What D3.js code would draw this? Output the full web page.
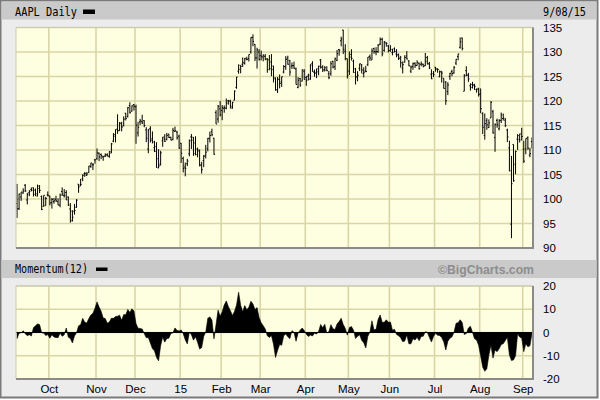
<!DOCTYPE html>
<html><head><meta charset="utf-8">
<script src="https://cdn.jsdelivr.net/npm/d3@7"></script>
<style>body{margin:0;background:#fff}svg{display:block}</style>
</head><body><svg id="c" width="600" height="400"></svg>
<script>
// ---------- DATA ----------
const dates = [
"2014-09-09","2014-09-10","2014-09-11","2014-09-12","2014-09-15","2014-09-16","2014-09-17","2014-09-18","2014-09-19","2014-09-22","2014-09-23","2014-09-24","2014-09-25","2014-09-26","2014-09-29","2014-09-30",
"2014-10-01","2014-10-02","2014-10-03","2014-10-06","2014-10-07","2014-10-08","2014-10-09","2014-10-10","2014-10-13","2014-10-14","2014-10-15","2014-10-16","2014-10-17","2014-10-20","2014-10-21","2014-10-22","2014-10-23","2014-10-24","2014-10-27","2014-10-28","2014-10-29","2014-10-30","2014-10-31",
"2014-11-03","2014-11-04","2014-11-05","2014-11-06","2014-11-07","2014-11-10","2014-11-11","2014-11-12","2014-11-13","2014-11-14","2014-11-17","2014-11-18","2014-11-19","2014-11-20","2014-11-21","2014-11-24","2014-11-25","2014-11-26","2014-11-28",
"2014-12-01","2014-12-02","2014-12-03","2014-12-04","2014-12-05","2014-12-08","2014-12-09","2014-12-10","2014-12-11","2014-12-12","2014-12-15","2014-12-16","2014-12-17","2014-12-18","2014-12-19","2014-12-22","2014-12-23","2014-12-24","2014-12-26","2014-12-29","2014-12-30","2014-12-31",
"2015-01-02","2015-01-05","2015-01-06","2015-01-07","2015-01-08","2015-01-09","2015-01-12","2015-01-13","2015-01-14","2015-01-15","2015-01-16","2015-01-20","2015-01-21","2015-01-22","2015-01-23","2015-01-26","2015-01-27","2015-01-28","2015-01-29","2015-01-30",
"2015-02-02","2015-02-03","2015-02-04","2015-02-05","2015-02-06","2015-02-09","2015-02-10","2015-02-11","2015-02-12","2015-02-13","2015-02-17","2015-02-18","2015-02-19","2015-02-20","2015-02-23","2015-02-24","2015-02-25","2015-02-26","2015-02-27",
"2015-03-02","2015-03-03","2015-03-04","2015-03-05","2015-03-06","2015-03-09","2015-03-10","2015-03-11","2015-03-12","2015-03-13","2015-03-16","2015-03-17","2015-03-18","2015-03-19","2015-03-20","2015-03-23","2015-03-24","2015-03-25","2015-03-26","2015-03-27","2015-03-30","2015-03-31",
"2015-04-01","2015-04-02","2015-04-06","2015-04-07","2015-04-08","2015-04-09","2015-04-10","2015-04-13","2015-04-14","2015-04-15","2015-04-16","2015-04-17","2015-04-20","2015-04-21","2015-04-22","2015-04-23","2015-04-24","2015-04-27","2015-04-28","2015-04-29","2015-04-30",
"2015-05-01","2015-05-04","2015-05-05","2015-05-06","2015-05-07","2015-05-08","2015-05-11","2015-05-12","2015-05-13","2015-05-14","2015-05-15","2015-05-18","2015-05-19","2015-05-20","2015-05-21","2015-05-22","2015-05-26","2015-05-27","2015-05-28","2015-05-29",
"2015-06-01","2015-06-02","2015-06-03","2015-06-04","2015-06-05","2015-06-08","2015-06-09","2015-06-10","2015-06-11","2015-06-12","2015-06-15","2015-06-16","2015-06-17","2015-06-18","2015-06-19","2015-06-22","2015-06-23","2015-06-24","2015-06-25","2015-06-26","2015-06-29","2015-06-30",
"2015-07-01","2015-07-02","2015-07-06","2015-07-07","2015-07-08","2015-07-09","2015-07-10","2015-07-13","2015-07-14","2015-07-15","2015-07-16","2015-07-17","2015-07-20","2015-07-21","2015-07-22","2015-07-23","2015-07-24","2015-07-27","2015-07-28","2015-07-29","2015-07-30","2015-07-31",
"2015-08-03","2015-08-04","2015-08-05","2015-08-06","2015-08-07","2015-08-10","2015-08-11","2015-08-12","2015-08-13","2015-08-14","2015-08-17","2015-08-18","2015-08-19","2015-08-20","2015-08-21","2015-08-24","2015-08-25","2015-08-26","2015-08-27","2015-08-28","2015-08-31",
"2015-09-01","2015-09-02","2015-09-03","2015-09-04","2015-09-08"];

const opens = [
99.08,98.01,100.41,101.21,102.81,99.80,101.27,101.93,102.29,101.80,100.60,102.16,100.51,98.53,98.65,100.81,
100.59,99.27,99.44,99.95,99.43,98.76,101.54,100.69,101.33,100.39,97.97,95.55,97.50,98.32,103.02,102.84,104.08,105.18,104.85,105.40,106.65,106.96,108.01,
108.22,109.36,109.10,108.60,108.75,109.02,108.70,109.38,111.80,113.15,114.27,113.94,115.44,114.91,117.51,116.85,119.07,117.94,119.27,
118.81,113.50,115.75,115.77,115.99,114.10,110.19,114.41,112.26,110.46,110.70,106.37,107.12,111.87,112.26,112.16,113.23,112.58,112.10,113.79,113.64,112.82,
111.39,108.29,106.54,107.20,109.23,112.67,112.60,111.43,109.04,110.00,107.03,107.84,108.95,110.26,112.30,113.74,112.42,117.63,116.32,118.40,
118.05,118.50,118.50,120.02,120.02,118.55,120.17,122.77,126.06,127.28,127.49,127.63,128.48,128.62,130.02,132.94,131.56,128.79,130.00,
129.25,128.96,129.10,128.58,128.40,127.96,126.41,124.75,122.31,124.40,123.88,125.90,127.00,128.75,128.25,127.12,127.23,126.54,122.76,124.57,124.05,126.09,
124.82,125.03,124.47,127.64,125.85,125.85,125.95,128.37,127.00,126.41,126.28,125.55,125.57,128.10,126.99,128.30,130.49,132.31,134.46,130.16,128.64,
126.10,129.50,128.15,126.56,124.77,126.68,127.39,125.60,126.15,127.41,129.07,128.38,130.69,130.00,130.07,131.60,132.60,130.34,131.86,131.23,
130.28,129.86,130.66,129.58,129.50,128.90,126.70,127.92,129.18,128.19,126.10,127.03,127.72,127.23,127.71,127.49,127.48,127.21,128.86,127.67,125.46,125.57,
126.90,126.43,124.94,125.89,124.64,123.85,121.94,125.03,126.04,125.72,127.74,129.08,130.97,132.85,121.99,126.20,125.32,123.09,123.38,123.15,122.32,122.60,
121.50,117.42,112.95,115.97,114.58,116.53,117.81,112.53,116.04,114.32,116.04,116.43,116.10,114.08,110.43,94.87,111.11,107.09,112.23,112.17,112.03,
110.15,110.23,112.49,108.97,111.75];

const highs = [
103.08,101.11,101.44,102.19,103.05,101.26,101.80,102.35,102.35,102.14,102.94,102.85,100.71,100.75,100.44,101.54,
100.69,100.22,100.21,100.65,100.12,101.11,102.38,102.03,101.78,100.52,99.15,97.72,99.00,99.96,103.02,104.11,105.05,105.49,105.48,106.74,107.37,107.35,108.04,
110.30,109.49,109.30,108.79,109.32,109.33,109.75,111.43,113.45,114.19,117.28,115.69,115.74,116.86,117.57,118.77,119.75,119.10,119.40,
119.25,115.75,116.35,117.20,116.08,114.65,114.30,114.85,113.80,111.87,111.60,110.16,109.84,112.65,113.24,113.49,113.33,112.71,114.52,114.77,113.92,113.13,
111.44,108.65,107.43,108.20,112.15,113.25,112.63,112.80,110.49,110.06,107.58,108.97,111.06,112.47,113.75,114.36,112.48,118.12,119.19,120.00,
119.17,119.09,120.51,120.23,120.25,119.84,122.15,124.92,127.48,127.28,128.88,128.78,129.03,129.50,133.00,133.60,131.60,130.87,130.57,
130.28,129.52,129.56,128.75,129.37,129.57,127.22,124.77,124.90,125.40,124.95,127.32,129.16,129.25,128.40,127.85,128.04,126.82,124.88,124.70,126.40,126.49,
125.12,125.56,127.51,128.12,126.40,126.58,127.21,128.57,127.29,127.13,127.10,126.14,128.12,128.20,128.87,130.42,130.63,133.13,134.54,131.59,128.64,
130.13,130.57,128.45,126.75,126.08,127.62,127.56,126.88,127.19,128.95,129.49,130.72,130.88,130.98,131.63,132.97,132.91,132.26,131.95,131.45,
131.39,130.66,130.94,130.58,129.69,129.21,128.08,129.34,130.18,128.33,127.24,127.85,127.88,128.31,127.82,128.06,127.61,129.80,129.20,127.99,126.47,126.12,
126.94,126.69,126.23,126.15,124.64,124.06,123.85,125.76,126.37,127.15,128.57,129.62,132.97,132.92,125.50,127.09,125.74,123.61,123.91,123.50,122.57,122.64,
122.57,117.70,117.44,116.50,116.25,119.99,118.18,115.42,116.40,116.31,117.65,117.44,116.52,114.35,111.90,108.80,111.11,109.89,113.24,113.31,114.53,
111.88,112.34,112.78,110.45,112.56];

const lows = [
96.14,97.76,99.62,101.08,101.44,98.89,100.59,101.56,100.50,100.58,100.54,101.20,97.72,98.40,98.63,100.53,
98.70,98.04,99.04,99.42,98.73,98.31,100.61,100.30,99.81,98.57,95.18,95.41,96.81,98.22,101.27,102.60,103.63,104.53,104.70,105.35,106.36,105.90,107.21,
108.01,107.72,108.13,107.80,108.55,108.67,108.40,109.37,111.60,111.56,113.30,113.89,113.80,114.85,116.03,116.62,117.45,117.83,118.05,
111.27,112.75,115.11,115.29,114.64,111.62,109.35,111.54,111.34,109.58,106.35,106.26,106.82,110.66,111.66,111.97,112.46,112.01,112.01,113.70,112.11,110.21,
107.35,105.41,104.63,106.70,108.70,110.21,108.80,108.91,108.50,106.66,105.20,106.50,108.27,109.72,111.53,112.80,109.03,115.31,115.56,116.85,
116.08,117.61,118.31,119.25,118.45,118.43,120.16,122.50,125.57,125.65,126.92,127.45,128.33,128.05,129.66,131.17,128.15,126.61,128.24,
128.30,128.09,128.32,125.76,126.26,125.06,123.80,122.11,121.63,122.58,122.87,125.65,126.37,127.40,125.16,126.52,126.56,123.38,122.60,122.91,124.00,124.36,
123.10,124.19,124.33,125.98,124.97,124.66,125.26,126.61,125.91,126.01,126.11,124.46,125.17,126.67,126.32,128.14,129.23,131.15,129.57,128.30,124.58,
125.30,128.26,125.78,123.36,124.02,126.11,125.63,124.82,125.87,127.16,128.21,128.36,129.64,129.34,129.83,131.40,129.12,130.05,131.10,129.90,
130.05,129.32,129.90,128.91,128.36,126.83,125.62,127.85,128.48,127.11,125.71,126.37,126.74,127.22,126.40,127.08,126.88,127.12,127.50,126.51,124.48,124.86,
125.99,125.77,124.85,123.77,122.54,119.22,121.21,124.32,125.04,125.58,127.35,128.31,130.70,130.32,121.99,125.06,123.90,122.12,122.55,122.27,121.71,120.91,
117.52,113.25,112.10,114.12,114.50,116.53,113.33,109.63,114.54,114.01,115.50,116.01,114.68,111.63,105.65,92.00,103.50,105.05,110.02,111.54,112.00,
107.36,109.13,110.04,108.51,110.32];

const closes = [
97.99,101.00,101.43,101.66,101.63,100.86,101.58,101.79,100.96,101.06,102.64,101.75,97.87,100.75,100.11,100.75,
99.18,99.90,99.62,99.62,98.75,100.80,101.02,100.73,99.81,98.75,97.54,96.26,97.67,99.76,102.47,102.99,104.83,105.22,105.11,106.74,107.34,106.98,108.00,
109.40,108.60,108.86,108.70,109.01,108.83,109.70,111.25,112.82,114.18,113.99,115.47,114.67,116.31,116.47,118.63,117.60,119.00,118.93,
115.07,114.63,115.93,115.49,115.00,112.40,114.12,111.95,111.62,109.73,108.22,106.75,109.41,112.65,111.78,112.94,112.54,112.01,113.99,113.91,112.52,110.38,
109.33,106.25,106.26,107.75,111.89,112.01,109.25,110.22,109.80,106.82,105.99,108.72,109.55,112.40,112.98,113.10,109.14,115.31,118.90,117.16,
118.63,118.65,119.56,119.94,118.93,119.72,122.02,124.88,126.46,127.08,127.83,128.72,128.45,129.50,133.00,132.17,128.79,130.42,128.46,
129.09,129.36,128.54,126.41,126.60,127.14,124.51,122.24,124.45,123.59,124.95,127.04,128.47,127.50,125.90,127.21,126.69,123.38,124.24,123.25,126.37,124.43,
124.25,125.32,127.35,126.01,125.60,126.56,127.10,126.85,126.30,126.78,126.17,124.75,127.60,126.91,128.62,129.67,130.28,132.65,130.56,128.64,125.15,
128.95,128.70,125.80,125.01,125.26,127.62,126.32,125.87,126.01,128.95,128.77,130.19,130.07,130.06,131.39,132.54,129.62,132.04,131.78,130.28,
130.54,129.96,130.12,129.36,128.65,127.80,127.42,128.88,128.59,127.17,126.92,127.60,127.30,127.88,126.60,127.61,127.03,128.11,127.50,126.75,124.53,125.43,
126.60,126.44,126.00,125.69,122.57,120.07,123.28,125.66,125.61,126.82,128.51,129.62,132.07,130.75,125.16,125.22,124.50,122.77,123.38,122.99,122.37,121.30,
118.44,114.64,115.40,115.13,115.52,119.72,113.49,115.24,115.15,115.96,117.16,116.50,115.01,112.65,105.76,103.12,103.74,109.69,112.92,113.29,112.76,
107.72,112.34,110.37,109.27,112.31];

// closes of the 12 sessions before the first bar (needed for Momentum(12))
const priorCloses = [100.58,101.32,101.54,100.89,102.13,102.25,102.50,103.30,98.94,98.12,98.97,98.36];
const momentumPeriod = 12;

const priceTicks = [90,95,100,105,110,115,120,125,130,135];
const momTicks = [-20,-10,0,10,20];
const monthLabels = ["Oct","Nov","Dec","15","Feb","Mar","Apr","May","Jun","Jul","Aug","Sep"];
const titleText = "AAPL Daily";
const dateText = "9/08/15";
const indicatorText = "Momentum(12)";
const creditText = "\u00A9BigCharts.com";

// ---------- DRAW ----------
const svg = d3.select("#c");
const W = 600, H = 400;
const L = 16, R = 533;
const P1 = {top: 27.5, bottom: 248};
const P2 = {top: 286, bottom: 379};
const n = closes.length;

const x = d3.scaleLinear().domain([0, n]).range([L, R]);
const xc = i => x(i + 0.5);
const y = d3.scaleLinear().domain([90, 135]).range([P1.bottom, P1.top]);
const ym = d3.scaleLinear().domain([-20, 20]).range([P2.bottom, P2.top]);

const allCloses = priorCloses.concat(closes);
const momentum = closes.map((c, i) => c - allCloses[i + priorCloses.length - momentumPeriod]);

const monthStarts = [];
for (let i = 1; i < n; i++) if (dates[i].slice(0,7) !== dates[i-1].slice(0,7)) monthStarts.push(i);

// background & frame
svg.append("rect").attr("width", W).attr("height", H).attr("fill", "#ffffff");
svg.append("rect").attr("x", 0.5).attr("y", 0.5).attr("width", 597).attr("height", 397)
  .attr("fill", "#ececec").attr("stroke", "#7a7a7a").attr("stroke-width", 2);

// header bars
svg.append("rect").attr("x", 1.5).attr("y", 1.5).attr("width", 595).attr("height", 18).attr("fill", "#cacaca");
svg.append("rect").attr("x", 1.5).attr("y", 260).attr("width", 595).attr("height", 18).attr("fill", "#cacaca");

const mono = "'DejaVu Sans Mono', 'Liberation Mono', monospace";
const sans = "'Liberation Sans', Arial, sans-serif";

svg.append("text").attr("x", 15).attr("y", 16).attr("font-family", mono).attr("font-size", 12)
  .attr("textLength", 62).attr("lengthAdjust", "spacingAndGlyphs").attr("fill", "#000").text(titleText);
svg.append("rect").attr("x", 83).attr("y", 9.5).attr("width", 12).attr("height", 4.5).attr("fill", "#000");
svg.append("text").attr("x", 543).attr("y", 16).attr("font-family", mono).attr("font-size", 12)
  .attr("textLength", 43).attr("lengthAdjust", "spacingAndGlyphs").attr("fill", "#000").text(dateText);

svg.append("text").attr("x", 15).attr("y", 273).attr("font-family", mono).attr("font-size", 11.5)
  .attr("textLength", 73).attr("lengthAdjust", "spacingAndGlyphs").attr("fill", "#000").text(indicatorText);
svg.append("rect").attr("x", 96).attr("y", 267.5).attr("width", 11.5).attr("height", 3.5).attr("fill", "#000");
svg.append("text").attr("x", 534).attr("y", 274).attr("text-anchor", "end").attr("font-family", sans)
  .attr("font-weight", "bold").attr("font-size", 13).attr("fill", "#8d8d8d")
  .attr("textLength", 96).attr("lengthAdjust", "spacingAndGlyphs").text(creditText);

// panels
function panel(top, bottom, ys, ticks) {
  const g = svg.append("g");
  g.append("rect").attr("x", L).attr("y", top).attr("width", R - L).attr("height", bottom - top).attr("fill", "#fefee0");
  g.selectAll("line.h").data(ticks).join("line").attr("class", "h")
    .attr("x1", L).attr("x2", R).attr("y1", d => ys(d)).attr("y2", d => ys(d))
    .attr("stroke", "#d9d6a6").attr("stroke-width", 1.6);
  g.selectAll("line.v").data(monthStarts).join("line").attr("class", "v")
    .attr("x1", d => x(d)).attr("x2", d => x(d)).attr("y1", top).attr("y2", bottom)
    .attr("stroke", "#d9d6a6").attr("stroke-width", 1.6);
  return g;
}
function frame(top, bottom) {
  svg.append("path").attr("d", `M${L},${bottom}V${top}H${R}`).attr("fill", "none").attr("stroke", "#c9c9b8").attr("stroke-width", 1);
  svg.append("path").attr("d", `M${L},${bottom}H${R}V${top}`).attr("fill", "none").attr("stroke", "#8a8a8a").attr("stroke-width", 2);
}

panel(P1.top, P1.bottom, y, priceTicks);
panel(P2.top, P2.bottom, ym, momTicks);

// OHLC bars
svg.append("g").selectAll("path").data(closes).join("path")
  .attr("d", (c, i) => {
    const cx = xc(i);
    return `M${cx},${y(highs[i])}V${y(lows[i])}M${cx-1.1},${y(opens[i])}H${cx}M${cx},${y(c)}H${cx+1.1}`;
  })
  .attr("fill", "none").attr("stroke", "#000").attr("stroke-width", 1);

// momentum area
const area = d3.area().x((d, i) => xc(i)).y0(ym(0)).y1(d => ym(d));
svg.append("path").datum(momentum).attr("d", area).attr("fill", "#000").attr("stroke", "#000").attr("stroke-width", 0.6);
svg.append("line").attr("x1", L).attr("x2", R).attr("y1", ym(0)).attr("y2", ym(0)).attr("stroke", "#000").attr("stroke-width", 1);

frame(P1.top, P1.bottom);
frame(P2.top, P2.bottom);

// axes
const axisFont = g => g.selectAll("text").attr("font-family", sans).attr("font-size", 11.5).attr("fill", "#000");
const ay = svg.append("g").attr("transform", `translate(${R},0)`)
  .call(d3.axisRight(y).tickValues(priceTicks).tickSize(0).tickPadding(10).tickFormat(d3.format("d")));
ay.select(".domain").remove(); axisFont(ay);
const am = svg.append("g").attr("transform", `translate(${R},0)`)
  .call(d3.axisRight(ym).tickValues(momTicks).tickSize(0).tickPadding(10).tickFormat(d => d < 0 ? "-" + Math.abs(d) : d));
am.select(".domain").remove(); axisFont(am);
const ax = svg.append("g").attr("transform", `translate(0,${P2.bottom})`)
  .call(d3.axisBottom(x).tickValues(monthStarts).tickSize(0).tickPadding(6).tickFormat((d, k) => monthLabels[k]));
ax.select(".domain").remove(); axisFont(ax);
</script></body></html>
